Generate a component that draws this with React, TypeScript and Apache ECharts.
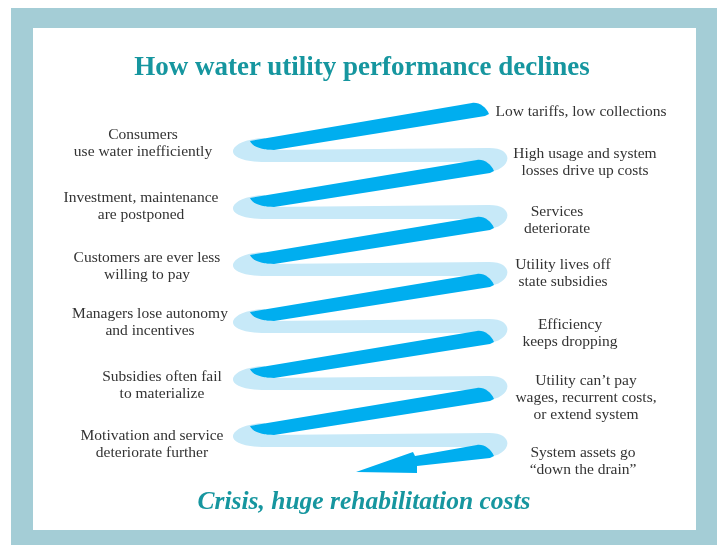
import React, { useEffect, useRef } from "react";
import * as echarts from "echarts";

const titleText = "How water utility performance declines";
const footerText = "Crisis, huge rehabilitation costs";

// Stages of the spiral (front strips go from right at stage i to left lower)
const frontStages = [0, 1, 2, 3, 4, 5, 6];
const backStages = [0, 1, 2, 3, 4, 5];
const leftDrop = 0.614; // stage offset of a strip's left end relative to its right end

const rightLabels = [
  "Low tariffs, low collections",
  "High usage and system\nlosses drive up costs",
  "Services\ndeteriorate",
  "Utility lives off\nstate subsidies",
  "Efficiency\nkeeps dropping",
  "Utility can\u2019t pay\nwages, recurrent costs,\nor extend system",
  "System assets go\n\u201cdown the drain\u201d",
];
const leftLabels = [
  "Consumers\nuse water inefficiently",
  "Investment, maintenance\nare postponed",
  "Customers are ever less\nwilling to pay",
  "Managers lose autonomy\nand incentives",
  "Subsidies often fail\nto materialize",
  "Motivation and service\ndeteriorate further",
];

// layout (centre x, first line centre y)
const rightPos = [
  [581, 110],
  [585, 152],
  [557, 210],
  [563, 263],
  [570, 323],
  [586, 379],
  [583, 451],
];
const leftPos = [
  [143, 133],
  [141, 196],
  [147, 256],
  [150, 312],
  [162, 375],
  [152, 434],
];

const DARK = "#00aeef";
const LIGHT = "#c7e9f8";
const TEAL = "#16969f";
const FRAME = "#a4cdd6";
const TEXT = "#333333";
const SERIF = "'Liberation Serif', 'DejaVu Serif', serif";

function f(n: number) {
  return n.toFixed(1);
}

export default function App() {
  const ref = useRef<HTMLDivElement>(null);
  useEffect(() => {
    if (!ref.current) return;
    const chart = echarts.init(ref.current, undefined, { renderer: "svg" });
    const firstFront = frontStages[0];
    const lastFront = frontStages[frontStages.length - 1];

    const labelEls: any[] = [];
    const mk = (txt: string, p: number[]) => ({
      type: "text",
      x: p[0],
      y: p[1] - 8.5,
      z: 10,
      style: {
        text: txt,
        fill: TEXT,
        font: `15.5px ${SERIF}`,
        align: "center",
        verticalAlign: "top",
        lineHeight: 17,
      },
    });
    rightLabels.forEach((t, i) => labelEls.push(mk(t, rightPos[i])));
    leftLabels.forEach((t, i) => labelEls.push(mk(t, leftPos[i])));

    chart.setOption({
      animation: false,
      grid: { left: 260, right: 238, top: 110, bottom: 93, containLabel: false },
      xAxis: { type: "value", min: 0, max: 1, show: false },
      yAxis: { type: "value", min: 0, max: 6, inverse: true, show: false },
      graphic: [
        { type: "rect", z: 0, shape: { x: 11, y: 8, width: 706, height: 540 }, style: { fill: FRAME } },
        { type: "rect", z: 0, shape: { x: 33, y: 28, width: 663, height: 502 }, style: { fill: "#ffffff" } },
        {
          type: "text",
          x: 362,
          y: 66,
          z: 10,
          style: {
            text: titleText,
            fill: TEAL,
            font: `bold 27px ${SERIF}`,
            align: "center",
            verticalAlign: "middle",
          },
        },
        {
          type: "text",
          x: 364,
          y: 500,
          z: 10,
          style: {
            text: footerText,
            fill: TEAL,
            font: `italic bold 25.5px ${SERIF}`,
            align: "center",
            verticalAlign: "middle",
          },
        },
        ...labelEls,
      ],
      series: [
        {
          type: "custom",
          name: "back",
          coordinateSystem: "cartesian2d",
          silent: true,
          z: 3,
          data: backStages.map((s) => [0, s]),
          renderItem: (params: any, api: any) => {
            const s = api.value(1);
            const l = api.coord([0, s + leftDrop]);
            const r = api.coord([1, s + 1]);
            const xl = l[0], Dl = l[1], xr = r[0], Dr = r[1];
            const d =
              `M${f(xl + 5)},${f(Dl - 7)} ` +
              `C${f(xl - 32)},${f(Dl - 6)} ${f(xl - 42)},${f(Dl + 16)} ${f(xl + 2)},${f(Dl + 17)} ` +
              `L${f(xr - 10)},${f(Dr - 5)} ` +
              `L${f(xr)},${f(Dr + 5)} ` +
              `C${f(xr + 26)},${f(Dr + 6)} ${f(xr + 34)},${f(Dr - 19)} ${f(xr + 5)},${f(Dr - 19)} ` +
              `L${f(xl + 5)},${f(Dl + 5)} Z`;
            return { type: "path", shape: { pathData: d }, style: { fill: LIGHT } };
          },
        },
        {
          type: "custom",
          name: "front",
          coordinateSystem: "cartesian2d",
          silent: true,
          z: 4,
          data: frontStages.map((s) => [1, s]),
          renderItem: (params: any, api: any) => {
            const s = api.value(1);
            const r = api.coord([1, s]);
            const l = api.coord([0, s + leftDrop]);
            const xl = l[0], Dl = l[1], Dr = r[1];
            // the topmost strip starts a little further left
            const xr = s === firstFront ? r[0] - 5 : r[0];
            const rightEnd =
              `M${f(xr - 7)},${f(Dr - 7)} ` +
              `C${f(xr)},${f(Dr - 8)} ${f(xr + 7)},${f(Dr - 3)} ${f(xr + 10)},${f(Dr + 4)} ` +
              `L${f(xr + 6)},${f(Dr + 6)} `;
            let d: string;
            if (s === lastFront) {
              d =
                rightEnd +
                `L${f(xr - 67)},${f(Dr + 14)} ` +
                `L${f(xr - 67)},${f(Dr + 21)} ` +
                `L${f(xr - 128)},${f(Dr + 20)} ` +
                `L${f(xr - 71)},${f(Dr)} ` +
                `L${f(xr - 69)},${f(Dr + 4)} Z`;
            } else {
              d =
                rightEnd +
                `L${f(xl + 14)},${f(Dl + 5)} ` +
                `C${f(xl)},${f(Dl + 5)} ${f(xl - 8)},${f(Dl + 1)} ${f(xl - 10)},${f(Dl - 4)} Z`;
            }
            return { type: "path", shape: { pathData: d }, style: { fill: DARK } };
          },
        },
      ],
    });
    return () => chart.dispose();
  }, []);
  return (
    <div
      ref={ref}
      style={{ position: "fixed", left: 0, top: 0, width: 722, height: 545 }}
    />
  );
}
